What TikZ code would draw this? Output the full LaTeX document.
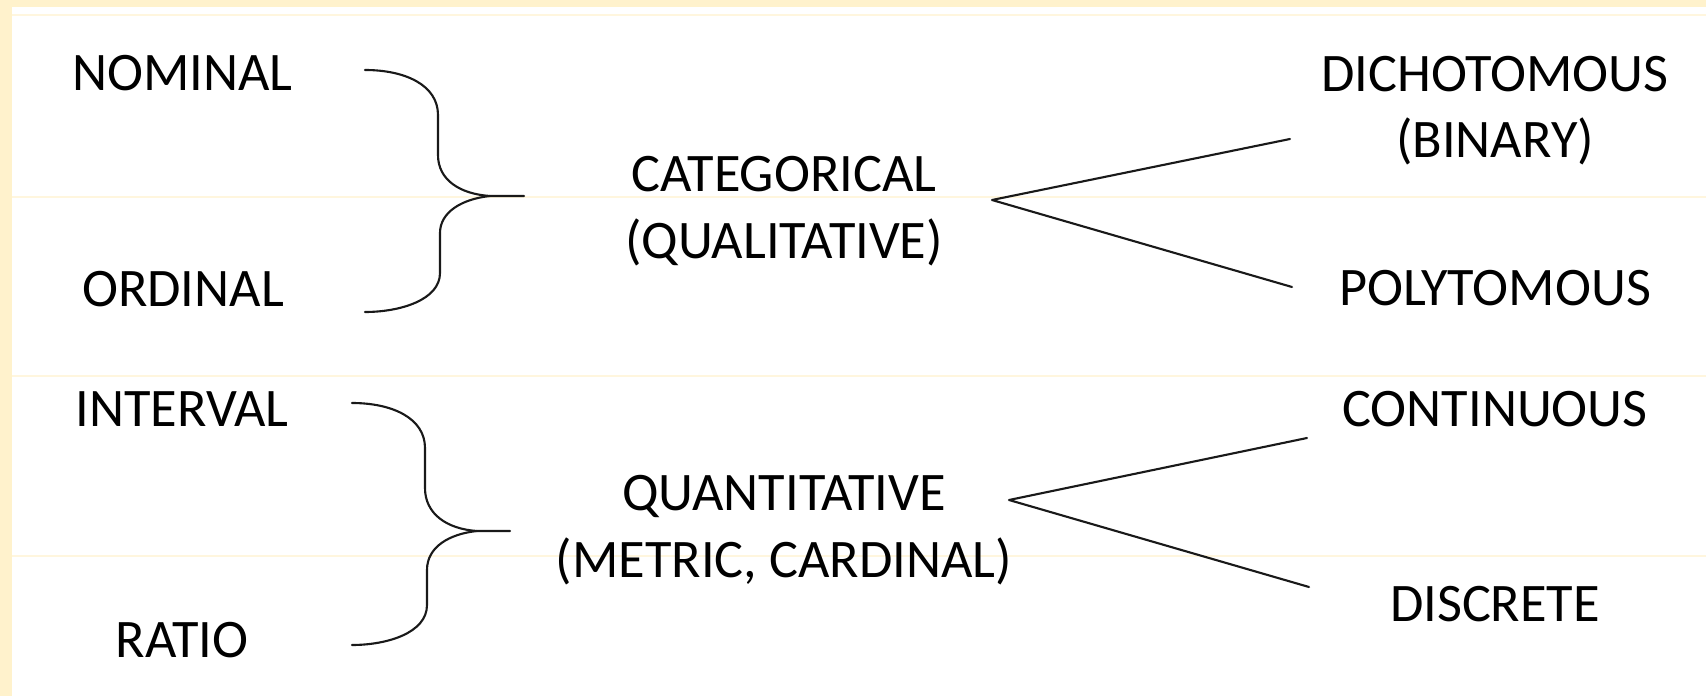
\documentclass[tikz,border=0pt]{standalone}
\usepackage{fontspec}
\setmainfont{Carlito}
\usetikzlibrary{positioning}
\definecolor{paperyellow}{HTML}{FFF2CC}
\definecolor{gridyellow}{HTML}{FFF6DE}

\begin{document}
\begin{tikzpicture}[x=1cm,y=1cm]
\tikzset{
  varlabel/.style={font=\fontsize{30.9}{37.6}\selectfont,align=center,anchor=base,inner sep=0pt,text=black},
  varedge/.style={draw=black!90,line width=1.2pt,line cap=round,line join=round},
  gridline/.style={draw=gridyellow,line width=0.6pt}
}
\useasboundingbox (0,0) rectangle (34.12,-13.92);
\fill[paperyellow] (0,0) rectangle (34.12,-13.92);
\fill[white] (0.24,-0.15) rectangle (34.12,-13.92);
\draw[gridline] (0.24,-0.30) -- (34.12,-0.30);
\draw[gridline] (0.24,-3.94) -- (34.12,-3.94);
\draw[gridline] (0.24,-7.52) -- (34.12,-7.52);
\draw[gridline] (0.24,-11.12) -- (34.12,-11.12);
% labels sit on the baseline of their last line
\node[varlabel] (n_nominal) at (3.65,-1.82) {NOMINAL};
\node[varlabel] (n_ordinal) at (3.66,-6.14) {ORDINAL};
\node[varlabel] (n_interval) at (3.64,-8.52) {INTERVAL};
\node[varlabel] (n_ratio) at (3.64,-13.14) {RATIO};
\node[varlabel] (n_categorical) at (15.68,-5.16) {CATEGORICAL\\(QUALITATIVE)};
\node[varlabel] (n_quantitative) at (15.68,-11.54) {QUANTITATIVE\\(METRIC, CARDINAL)};
\node[varlabel] (n_dichotomous) at (29.90,-3.16) {DICHOTOMOUS\\(BINARY)};
\node[varlabel] (n_polytomous) at (29.90,-6.12) {POLYTOMOUS};
\node[varlabel] (n_continuous) at (29.90,-8.52) {CONTINUOUS};
\node[varlabel] (n_discrete) at (29.90,-12.42) {DISCRETE};
\coordinate (b_nominal) at (7.30,-1.40);
\coordinate (b_ordinal) at (7.30,-6.24);
\coordinate (b_cattip) at (9.80,-3.92);
\coordinate (b_catend) at (10.48,-3.92);
\coordinate (b_interval) at (7.04,-8.06);
\coordinate (b_ratio) at (7.04,-12.90);
\coordinate (b_quanttip) at (9.54,-10.62);
\coordinate (b_quantend) at (10.20,-10.62);
\coordinate (f_cat) at (19.84,-4.00);
\coordinate (f_dicho) at (25.80,-2.78);
\coordinate (f_poly) at (25.84,-5.74);
\coordinate (f_quant) at (20.18,-10.00);
\coordinate (f_cont) at (26.14,-8.76);
\coordinate (f_disc) at (26.18,-11.74);
\draw[varedge] (b_nominal) .. controls (8.10,-1.40) and (8.76,-1.70) .. (8.76,-2.30)
  -- (8.76,-3.10) .. controls (8.76,-3.60) and (9.20,-3.88) .. (b_cattip) -- (b_catend);
\draw[varedge] (b_ordinal) .. controls (8.00,-6.24) and (8.80,-6.00) .. (8.80,-5.46)
  -- (8.80,-4.66) .. controls (8.80,-4.24) and (9.24,-3.98) .. (b_cattip);
\draw[varedge] (b_interval) .. controls (7.84,-8.06) and (8.50,-8.36) .. (8.50,-8.96)
  -- (8.50,-9.76) .. controls (8.50,-10.28) and (8.94,-10.58) .. (b_quanttip) -- (b_quantend);
\draw[varedge] (b_ratio) .. controls (7.74,-12.90) and (8.54,-12.66) .. (8.54,-12.10)
  -- (8.54,-11.40) .. controls (8.54,-10.94) and (8.98,-10.68) .. (b_quanttip);
\draw[varedge] (f_dicho) -- (f_cat) -- (f_poly);
\draw[varedge] (f_cont) -- (f_quant) -- (f_disc);
\end{tikzpicture}
\end{document}
